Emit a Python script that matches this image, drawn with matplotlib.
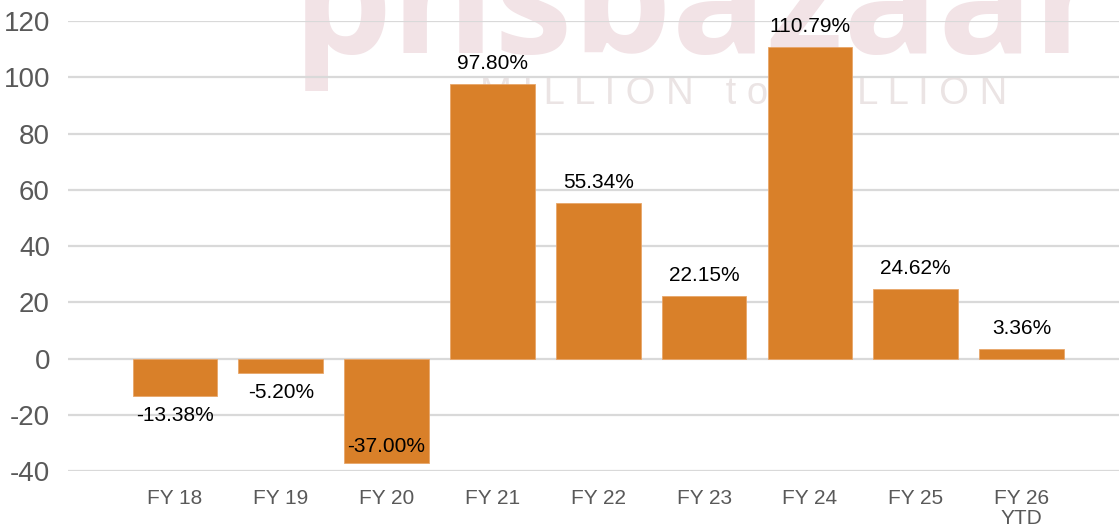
import numpy as np
import matplotlib
matplotlib.use("Agg")
import matplotlib.pyplot as plt

# ---------------------------------------------------------------------------
# data
# ---------------------------------------------------------------------------
categories = ["FY 18", "FY 19", "FY 20", "FY 21", "FY 22", "FY 23", "FY 24",
              "FY 25", "FY 26\nYTD"]
returns = [-13.38, -5.20, -37.00, 97.80, 55.34, 22.15, 110.79, 24.62, 3.36]
labels = ["-13.38%", "-5.20%", "-37.00%", "97.80%", "55.34%", "22.15%",
          "110.79%", "24.62%", "3.36%"]
yticks = [-40, -20, 0, 20, 40, 60, 80, 100, 120]

plt.rcParams["font.family"] = ["Liberation Sans", "DejaVu Sans"]
plt.rcParams["axes.unicode_minus"] = False

# ---------------------------------------------------------------------------
# plot
# ---------------------------------------------------------------------------
fig = plt.figure(figsize=(11.19, 5.31), dpi=100)
ax = fig.add_axes([0.0608, 0.113, 0.9392, 0.847])
ax.set_facecolor("none")
ax.set_zorder(2)

# faint watermark behind everything (drawn under the axes)
fig.text(0.262, 0.90, "pnsbazaar", fontsize=113, fontweight="bold",
         family="Open Sans", color="#f2e3e6", ha="left", va="baseline", zorder=-5)
fig.text(0.429, 0.805, "M I L L I O N   t o   B I L L I O N", fontsize=27.5,
         color="#ebe4e4", ha="left", va="baseline", zorder=-5)

x = np.arange(len(categories))
ax.bar(x, returns, width=0.8, color="#d98029", edgecolor="#e8a66a",
       linewidth=0.6, zorder=3)

for xi, v, lab in zip(x, returns, labels):
    if v >= 0:
        ax.annotate(lab, (xi, v), xytext=(0, 11), textcoords="offset pixels",
                    ha="center", va="bottom", fontsize=15, color="black")
    elif v < -30:
        # label sits inside the bar when it reaches the axis floor
        ax.annotate(lab, (xi, v), xytext=(0, 7), textcoords="offset pixels",
                    ha="center", va="bottom", fontsize=15, color="black")
    else:
        ax.annotate(lab, (xi, v), xytext=(0, -10), textcoords="offset pixels",
                    ha="center", va="top", fontsize=15, color="black")

ax.set_ylim(-40, 120)
ax.set_xlim(-1.01, 8.92)
ax.set_yticks(yticks)
ax.set_xticks(x)
ax.set_xticklabels(categories, fontsize=15, color="#595959", linespacing=1.05)
ax.tick_params(axis="y", labelsize=20, colors="#595959", length=0, pad=13)
ax.tick_params(axis="x", length=0, pad=13)
ax.yaxis.grid(True, color="#d9d9d9", linewidth=1.6, zorder=0)
ax.set_axisbelow(True)
for s in ax.spines.values():
    s.set_visible(False)

fig.savefig("out.png", dpi=100, facecolor="white")
plt.close(fig)
